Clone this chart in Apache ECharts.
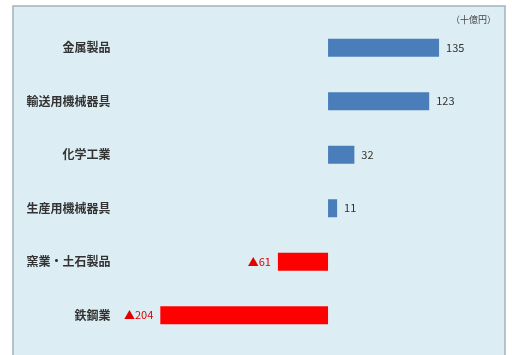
<!DOCTYPE html>
<html><head><meta charset="utf-8">
<script src="https://cdn.jsdelivr.net/npm/echarts@6/dist/echarts.min.js"></script>
<style>html,body{margin:0;padding:0;background:#fff}#c{width:512px;height:355px}</style>
</head><body><div id="c"></div>
<script>
const categories = ['金属製品','輸送用機械器具','化学工業','生産用機械器具','窯業・土石製品','鉄鋼業'];
const values = [135, 123, 32, 11, -61, -204];
const unitLabel = '（十億円）';

const chart = echarts.init(document.getElementById('c'));
const data = values.map(v => ({
  value: v,
  itemStyle: { color: v >= 0 ? '#4a7ebb' : '#ff0000' },
  label: {
    show: true,
    position: v >= 0 ? 'right' : 'left',
    color: v >= 0 ? '#333' : '#e00000',
    formatter: () => v >= 0 ? String(v) : '▲' + Math.abs(v)
  }
}));
chart.setOption({
  animation: false,
  graphic: [{
    type: 'rect', z: -10,
    shape: { x: 13, y: 6, width: 492, height: 360 },
    style: { fill: '#dcedf3', stroke: '#a3b3bc', lineWidth: 1.5 }
  }, {
    type: 'text', right: 16, top: 15,
    style: { text: unitLabel, fontSize: 9, fill: '#444', fontFamily: 'Noto Sans CJK JP' }
  }],
  grid: { left: 122.5, width: 370, top: 21, height: 321 },
  xAxis: {
    type: 'value', min: -250, max: 200, show: false
  },
  yAxis: {
    type: 'category', data: categories, inverse: true,
    axisLine: { show: false }, axisTick: { show: false },
    axisLabel: { color: '#333', fontSize: 12, fontWeight: 'bold', margin: 12, fontFamily: 'Noto Sans CJK JP' }
  },
  series: [{
    type: 'bar', data: data, barWidth: 18,
    label: { fontSize: 11, fontFamily: 'Noto Sans CJK JP', distance: 7 }
  }]
});
</script></body></html>
